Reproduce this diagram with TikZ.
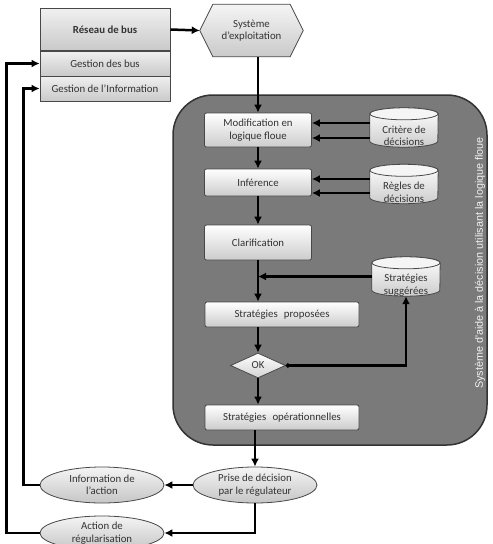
\documentclass[tikz,border=0pt]{standalone}
\usepackage{fontspec}
\setmainfont{Carlito}
\newfontfamily\arialf{Liberation Sans}
\usetikzlibrary{arrows.meta,shapes.geometric,calc}
\definecolor{txt}{HTML}{333333}
\definecolor{bord}{HTML}{484848}
\definecolor{bigfill}{HTML}{7A7A7A}
\tikzset{
  arr/.style={line width=2.5pt,-{Latex[length=8pt,width=8pt]}},
  fnt/.style={font=\fontsize{10.8}{12.5}\selectfont},
  boxx/.style={rectangle,rounded corners=2pt,draw=bord,line width=0.8pt,top color=white,bottom color=gray!40,text=txt,fnt,align=center,inner sep=1pt},
  topbox/.style={rectangle,draw=bord,line width=0.8pt,top color=gray!12,bottom color=gray!42,text=txt,fnt,align=center,minimum width=130pt,inner sep=1pt},
  ell/.style={ellipse,draw=bord,line width=0.8pt,top color=gray!8,bottom color=gray!45,text=txt,fnt,align=center,inner sep=0pt},
  cylframe/.style={rectangle,minimum width=68pt,minimum height=39pt,inner sep=0pt},
  cyltext/.style={text=txt,fnt,align=center,inner sep=0pt},
}
\newcommand\drawcyl[1]{%
  \path[draw=bord,line width=0.8pt,top color=white,bottom color=gray!40]
    ([yshift=-6pt]#1.north west) -- ([yshift=6pt]#1.south west)
    arc[start angle=180,end angle=360,x radius=34pt,y radius=6pt]
    -- ([yshift=-6pt]#1.north east)
    arc[start angle=0,end angle=180,x radius=34pt,y radius=6pt] -- cycle;
  \path[draw=bord,line width=0.8pt,fill=gray!8]
    ([yshift=-6pt]#1.north) ellipse[x radius=34pt,y radius=6pt];
}
\begin{document}
\begin{tikzpicture}[x=1pt,y=-1pt]
\useasboundingbox (0,0) rectangle (493,544);
% big container
\node[rectangle,rounded corners=40pt,draw=black!80,line width=1.5pt,fill=bigfill,minimum width=314pt,minimum height=350pt] (dss) at (330,270) {};
\node[rotate=90,text=gray!10,font=\arialf\fontsize{10.8}{12}\selectfont] (dsslabel) at (480,263) {Système d'aide à la décision utilisant la logique floue};
% top boxes
\node[topbox,minimum height=42pt,font=\bfseries\fontsize{10.8}{12.5}\selectfont] (res) at (105,29.5) {Réseau de bus};
\node[topbox,minimum height=25pt] (gbus) at (105,63.5) {Gestion des bus};
\node[topbox,minimum height=25pt] (ginfo) at (105,88.5) {Gestion de l'Information};
% hexagon
\node[rectangle,minimum width=103pt,minimum height=52pt,inner sep=0pt] (sys) at (251.5,30.5) {};
\path[draw=bord,line width=0.8pt,top color=gray!8,bottom color=gray!42]
  (sys.west) -- ([xshift=13pt]sys.north west) -- ([xshift=-13pt]sys.north east)
  -- (sys.east) -- ([xshift=-13pt]sys.south east) -- ([xshift=13pt]sys.south west) -- cycle;
\node[text=txt,fnt,align=center] (systxt) at (sys.center) {Système\\d'exploitation};
% inner boxes
\node[boxx,minimum width=107pt,minimum height=34pt] (mod) at (258,130) {Modification en\\logique floue};
\node[boxx,minimum width=107pt,minimum height=27pt] (inf) at (258,182.5) {Inférence};
\node[boxx,minimum width=107pt,minimum height=35pt] (clar) at (258,242.5) {Clarification};
\node[boxx,minimum width=154pt,minimum height=25pt] (sp) at (282,314.5) {Stratégies\hspace{0.35em} proposées};
\node[diamond,draw=bord,line width=0.8pt,top color=white,bottom color=gray!35,text=txt,fnt,minimum width=55pt,minimum height=25pt,inner sep=0pt] (ok) at (258,365.5) {OK};
\node[boxx,minimum width=154pt,minimum height=25pt] (sop) at (282,417.5) {Stratégies\hspace{0.35em} opérationnelles};
% cylinders
\node[cylframe] (crit) at (404,127.5) {};
\drawcyl{crit}
\node[cyltext] (crittxt) at (404,136) {Critère de\\décisions};
\node[cylframe] (regl) at (404,184) {};
\drawcyl{regl}
\node[cyltext] (regltxt) at (404,192.5) {Règles de\\décisions};
\node[cylframe] (sugg) at (406,276.5) {};
\drawcyl{sugg}
\node[cyltext] (suggtxt) at (406,285) {Stratégies\\suggérées};
% ellipses
\node[ell,minimum width=124pt,minimum height=36pt] (prise) at (255,485) {Prise de décision\\par le régulateur};
\node[ell,minimum width=124pt,minimum height=36pt] (info) at (102,485) {Information de\\l'action};
\node[ell,minimum width=124pt,minimum height=34pt] (act) at (102,533) {Action de\\régularisation};
% connectors
\draw[arr] (res.east) -- (sys.west);
\draw[arr] (mod.north |- sys.south) -- (mod.north);
\draw[arr] ([yshift=4.5pt]crit.west) -- ([yshift=4.5pt]crit.west -| mod.east);
\draw[arr] ([yshift=-10.5pt]crit.west) -- ([yshift=-10.5pt]crit.west -| mod.east);
\draw[arr] ([yshift=5pt]regl.west) -- ([yshift=5pt]regl.west -| inf.east);
\draw[arr] ([yshift=-9pt]regl.west) -- ([yshift=-9pt]regl.west -| inf.east);
\draw[arr] (mod.south) -- (inf.north);
\draw[arr] (inf.south) -- (clar.north);
\draw[arr] (clar.south) -- (clar.south |- sp.north);
\draw[arr] (sugg.west) -- (sugg.west -| clar.south);
\draw[arr] (clar.south |- sp.south) -- (ok.north);
\draw[arr] (ok.south) -- (ok.south |- sop.north);
\draw[line width=2.5pt,{Circle[length=4pt]}-{Latex[length=8pt,width=8pt]}] (ok.east) -| (sugg.south);
\draw[arr] (prise.north |- sop.south) -- (prise.north);
\draw[arr] (prise.west) -- (info.east);
\draw[arr] (prise.south) |- (act.east);
\draw[arr] (info.west) -- ++(-16,0) |- (ginfo.west);
\draw[arr] (act.west) -- ++(-33,0) |- (gbus.west);
\end{tikzpicture}
\end{document}
